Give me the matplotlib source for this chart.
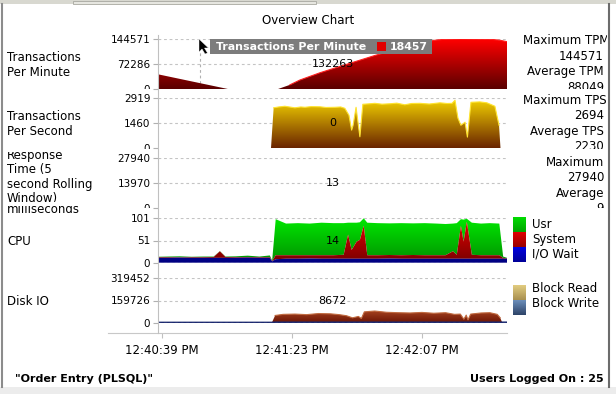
import numpy as np
import matplotlib
matplotlib.use("Agg")
import matplotlib.pyplot as plt
from matplotlib.colors import LinearSegmentedColormap
from matplotlib.patches import Rectangle, Polygon
from matplotlib.lines import Line2D
from matplotlib.transforms import Bbox, TransformedBbox

W, H = 616, 394

# time axis: seconds after 12:40:39 PM
x_ticks = [0, 44, 88]
x_labels = ["12:40:39 PM", "12:41:23 PM", "12:42:07 PM"]
t_start, t_end = -1.35, 116.8

tpm_t = [-1.35, 22.3, 39.3, 43.3, 46.7, 53.5, 63.6, 72.1, 80.6, 87.3,
         92.4, 95.8, 100.9, 111.0, 114.4, 116.8]
tpm = [42500, 0, 0, 12000, 26000, 47000, 74300, 97000, 117700, 133000,
       141000, 144000, 144571, 144000, 141000, 136800]

tps_t = [-1.35, 36.9, 37.8, 39.5, 41.6, 43.5, 45.0, 47.0, 48.4, 50.5,
         53.5, 55.5, 58.6, 60.5, 61.9, 63.3, 64.2, 64.7, 65.7, 67.0,
         68.0, 70.0, 72.1, 74.5, 77.2, 79.5, 82.2, 84.5, 87.3, 90.5,
         94.1, 96.5, 98.2, 99.2, 100.2, 101.2, 102.6, 103.4, 104.6, 107.6,
         110.0, 112.7, 114.1, 114.6, 116.8]
tps = [0, 0, 2350, 2400, 2440, 2390, 2350, 2400, 2380, 2420,
       2410, 2370, 2380, 2400, 2320, 1920, 1055, 1340, 2380, 670,
       2555, 2580, 2610, 2560, 2585, 2620, 2525, 2600, 2610, 2570,
       2640, 2600, 2610, 2790, 1750, 1340, 1515, 650, 2670, 2694,
       2640, 2440, 1340, 0, 0]

cpu_t = [-1.35, 2, 6, 10, 14, 17.5, 19.6, 21.5, 25, 29,
         33, 36.5, 37.3, 38.5, 42, 46, 50, 54, 58, 61.5,
         63.0, 64.2, 65.9, 67.0, 68.3, 69.5, 73, 77, 81, 85,
         89, 93, 96, 98.5, 99.8, 101.2, 102.1, 103.2, 104.9, 108,
         111, 114.2, 115.5, 116.8]
cpu_io = [11, 11, 11.5, 11, 11, 11, 11, 11, 11, 11.5,
          11, 11, 3, 8, 9, 9, 9.5, 9, 9, 9,
          9, 9, 9, 9, 9, 9, 9, 9.5, 9, 9,
          9, 9, 9, 9, 9, 9, 9, 9, 9, 9,
          9, 9, 9, 9]
cpu_sys = [1.5, 1.5, 1, 1.5, 1.5, 2, 15, 2, 1.5, 1.5,
           1.5, 1.5, 1, 9, 8, 8, 7.5, 8, 8, 9,
           55, 20, 39, 43, 75, 8, 8, 8, 8, 8.5,
           8, 8, 8, 17, 9, 75, 39, 84, 9, 8,
           8, 8, 2, 1]
cpu_usr = [1, 1.5, 2, 1, 1.5, 1, 0.5, 1, 2, 3,
           1.5, 4, 1, 82, 72, 73, 72, 74, 73, 72,
           27, 62, 43, 40, 17, 74, 73, 72, 73, 72,
           73, 72, 71, 63, 72, 15, 50, 7, 73, 72,
           73, 72, 3, 1]

disk_t = [-1.35, 37.2, 38.3, 41, 45, 49, 53, 57, 60, 62.5,
          64.5, 66.5, 67.5, 68.5, 72, 76, 80, 84, 88, 92,
          96, 99, 101, 102.2, 103, 103.6, 104.5, 108, 111, 113.5,
          114.5, 115.2, 116.8]
block_read = [0, 0, 52000, 60000, 62000, 58000, 66000, 64000, 58000, 50000,
              35000, 45000, 30000, 78000, 84000, 75000, 72000, 70000, 74000, 68000,
              72000, 60000, 62000, 25000, 55000, 20000, 62000, 70000, 72000, 60000,
              35000, 0, 0]
write_t = [-1.35, 37.2, 38.3, 116.8]
block_write = [1200, 1200, 2500, 2500]

# panel: label lines, top px, bottom px, y max, tick labels, band, cursor value, side text
panels = [
    (["Transactions", "Per Minute"], 39, 89, 144571, ["0", "72286", "144571"], (30, 89.3), "132263",
     ["Maximum TPM", "144571", "Average TPM", "88049"]),
    (["Transactions", "Per Second"], 98, 148.3, 2919, ["0", "1460", "2919"], (89.3, 148.8), "0",
     ["Maximum TPS", "2694", "Average TPS", "2230"]),
    (["Response", "Time (5", "second Rolling", "Window)", "milliseconds"], 158, 208, 27940,
     ["0", "13970", "27940"], (150, 208.5), "13", ["Maximum", "27940", "Average", "9"]),
    (["CPU"], 218.3, 262.7, 101, ["0", "51", "101"], (208.5, 270), "14", []),
    (["Disk IO"], 278.3, 322.7, 319452, ["0", "159726", "319452"], (270, 330), "8672", []),
]

fig = plt.figure(figsize=(W / 100, H / 100), dpi=100)
fig.patch.set_facecolor("white")

X0, X1 = 158, 507


def rect(x0, y0, x1, y1):
    return [x0 / W, 1 - y1 / H, (x1 - x0) / W, (y1 - y0) / H]


def band(y_lo, y_hi, x_hi=607):
    return TransformedBbox(Bbox.from_extents(0, 1 - y_hi / H, x_hi / W, 1 - y_lo / H),
                           fig.transFigure)


def ftext(x, y, s, clip=None, **kw):
    t = fig.text(x / W, 1 - y / H, s, va="center", **kw)
    if clip is not None:
        t.set_clip_box(band(*clip))
        t.set_clip_on(True)
    return t


def grad_fill(ax, t, lo, hi, c_top, c_bot, top, z=2):
    poly = ax.fill_between(t, lo, hi, facecolor="none", edgecolor="none")
    cmap = LinearSegmentedColormap.from_list("g", [c_bot, c_top])
    img = ax.imshow(np.linspace(0, 1, 200).reshape(-1, 1), cmap=cmap, origin="lower",
                    aspect="auto", extent=[t[0], t[-1], 0, top], zorder=z,
                    interpolation="bilinear")
    img.set_clip_path(poly.get_paths()[0], ax.transData)


def swatch(x0, y0, x1, y1, c_top, c_bot):
    sa = fig.add_axes(rect(x0, y0, x1, y1))
    cmap = LinearSegmentedColormap.from_list("s", [c_bot, c_top])
    sa.imshow(np.linspace(0, 1, 50).reshape(-1, 1), cmap=cmap, origin="lower",
              aspect="auto", interpolation="bilinear")
    sa.axis("off")


axes = []
for names, top, bot, ymax, ticks, (b_lo, b_hi), cur, side in panels:
    ax = fig.add_axes(rect(X0, top, X1, bot))
    ax.set_facecolor("none")
    for sp in ax.spines.values():
        sp.set_visible(False)
    ax.set_xticks([])
    ax.set_yticks([0, ymax / 2, ymax])
    ax.set_yticklabels([ticks[0], ticks[1], ticks[2]], fontsize=7.5)
    ax.tick_params(axis="y", length=3.5, width=0.8, color="#b0b0b0", pad=2)
    for lbl in ax.get_yticklabels():
        lbl.set_clip_box(band(b_lo, b_hi))
        lbl.set_clip_on(True)
    for v in (ymax / 2, ymax):
        ax.axhline(v, color="#c4c4c4", lw=0.8, ls=(0, (2.5, 2.5)), zorder=1)
    ax.text(0.5, ymax / 2, cur, transform=ax.get_yaxis_transform(), ha="center",
            va="center", fontsize=8, zorder=6)
    # left label
    n = len(names)
    for i, nm in enumerate(names):
        if n > 2:
            yy = 155 + i * 14.6
            clip = (152, 208)
            if nm == "Window)":
                yy, clip = 198.5, (152, 202)
            if nm == "milliseconds":
                yy, clip = 209.5, (206, 215)
        else:
            yy = (top + bot) / 2 - 7.3 * (n - 1) + 14.6 * i + 0.8
            clip = None
        ftext(7, yy, nm, clip=clip, fontsize=8.5)
    # right side stats
    if side:
        y_first = {39: 40.7, 98: 100, 158: 162.3}[top]
        for i, s in enumerate(side):
            if s.startswith("Maximum ") and len(s) > 8:
                ftext(523, y_first + 15.5 * i, s, clip=(b_lo, b_hi), fontsize=8.5, ha="left")
            else:
                ftext(604, y_first + 15.5 * i, s, clip=(b_lo, b_hi), fontsize=8.5, ha="right")
    axes.append(ax)

ax_tpm, ax_tps, ax_rt, ax_cpu, ax_disk = axes

# Transactions per minute
grad_fill(ax_tpm, tpm_t, 0, tpm, "#ff0000", "#5a0000", 144571)
tpm_edge = np.where(np.array(tpm) > 0, tpm, np.nan)
ax_tpm.plot(tpm_t, tpm_edge, color="#ff2020", lw=0.8, zorder=3)
ax_tpm.axvline(12.9, color="#b0b0b0", lw=0.8, ls=(0, (2.5, 2.5)), zorder=1)

# Transactions per second
grad_fill(ax_tps, tps_t, 0, tps, "#f8d800", "#6a2400", 2919)
tps_edge = np.where(np.array(tps) > 0, tps, np.nan)
ax_tps.plot(tps_t, tps_edge, color="#ffe430", lw=0.8, zorder=3)

# CPU stacked
io = np.array(cpu_io)
sy = io + np.array(cpu_sys)
us = sy + np.array(cpu_usr)
grad_fill(ax_cpu, cpu_t, sy, us, "#00e800", "#009000", 101, z=2)
grad_fill(ax_cpu, cpu_t, io, sy, "#e80000", "#780000", 101, z=2.1)
grad_fill(ax_cpu, cpu_t, 0, io, "#0000d8", "#000080", 101, z=2.2)
ax_cpu.axhline(0, color="#c8c8d8", lw=0.8, ls=(0, (2.5, 2.5)), zorder=4)

# Disk IO
grad_fill(ax_disk, disk_t, 0, block_read, "#a84420", "#6a1404", 90000)
disk_edge = np.where(np.array(block_read) > 0, block_read, np.nan)
ax_disk.plot(disk_t, disk_edge, color="#c06a40", lw=0.8, zorder=3)
ax_disk.plot(write_t, block_write, color="#1c2a70", lw=1.3, zorder=3.5)
ax_disk.axhline(0, color="#c8c8d8", lw=0.8, ls=(0, (2.5, 2.5)), zorder=4)

for (names, top, bot, ymax, *_), ax in zip(panels, axes):
    ax.set_xlim(t_start, t_end)
    ax.set_ylim(0, ymax)

# x axis (line starts further left than the plots)
px_per_s = (X1 - X0) / (t_end - t_start)
ax_x = fig.add_axes(rect(108, 326, X1, 333.3))
ax_x.set_facecolor("none")
for k in ("top", "left", "right"):
    ax_x.spines[k].set_visible(False)
ax_x.spines["bottom"].set_color("#c8c8c8")
ax_x.set_xlim(t_start - (X0 - 108) / px_per_s, t_end)
ax_x.set_yticks([])
ax_x.set_xticks(x_ticks)
ax_x.set_xticklabels(x_labels, fontsize=8.5)
ax_x.tick_params(axis="x", length=3.5, width=0.8, color="#c0c0c0", pad=4)

# continuous left axis line
fig.add_artist(Line2D([X0 / W, X0 / W], [1 - 35 / H, 1 - 333 / H], color="#c0c0c0", lw=0.8))

# title
ftext(308, 20, "Overview Chart", fontsize=8.5, ha="center")

# legends
swatch(513, 217, 526, 232, "#00dc00", "#00a400")
swatch(513, 232, 526, 247, "#e00000", "#980000")
swatch(513, 247, 526, 262, "#0000e0", "#000098")
swatch(513, 285, 526, 300, "#e2cc80", "#a89050")
swatch(513, 300, 526, 315, "#6c8eba", "#2e4468")
ftext(532, 224, "Usr", fontsize=8.5)
ftext(532, 239, "System", fontsize=8.5)
ftext(532, 254, "I/O Wait", fontsize=8.5)
ftext(532, 289, "Block Read", fontsize=8.5)
ftext(532, 303.5, "Block Write", fontsize=8.5)

# tooltip
fig.add_artist(Rectangle((210 / W, 1 - 54 / H), 222 / W, 15.5 / H, transform=fig.transFigure,
                         facecolor="#7c7c7c", edgecolor="none"))
ftext(215.5, 46.5, "Transactions Per Minute", fontsize=7.9, fontweight="bold", color="white")
fig.add_artist(Rectangle((377 / W, 1 - 50.5 / H), 8.5 / W, 8.5 / H, transform=fig.transFigure,
                         facecolor="#e00000", edgecolor="none"))
ftext(390, 46.5, "18457", fontsize=7.9, fontweight="bold", color="white")

# mouse cursor
cur = [(199, 39), (199, 52), (202, 49), (205, 54), (207.5, 53), (204.5, 48), (208.5, 48)]
fig.add_artist(Polygon([(x / W, 1 - y / H) for x, y in cur], closed=True, transform=fig.transFigure,
                       facecolor="black", edgecolor="white", lw=0.3))

# footer
ftext(15, 379, "\"Order Entry (PLSQL)\"", fontsize=8, fontweight="bold")
ftext(604, 379, "Users Logged On : 25", fontsize=8, fontweight="bold", ha="right")

# window frame
fig.add_artist(Rectangle((0, 1 - 3.5 / H), 1, 3.5 / H, transform=fig.transFigure,
                         facecolor="#d8d8d0", edgecolor="none"))
fig.add_artist(Rectangle((73 / W, 1 - 3.5 / H), 243 / W, 3 / H, transform=fig.transFigure,
                         facecolor="#e6e6e0", edgecolor="#a8a8a0", lw=0.6))
fig.add_artist(Rectangle((0, 0), 1, 7.3 / H, transform=fig.transFigure,
                         facecolor="#ececec", edgecolor="none"))
fig.add_artist(Line2D([1.5 / W, 1.5 / W], [1 - 3.5 / H, 7.3 / H], color="#8c8c8c", lw=1.5))
fig.add_artist(Line2D([609 / W, 609 / W], [1 - 3.5 / H, 7.3 / H], color="#6c6c6c", lw=1.5))

fig.savefig("out.png", dpi=100, facecolor="white")
